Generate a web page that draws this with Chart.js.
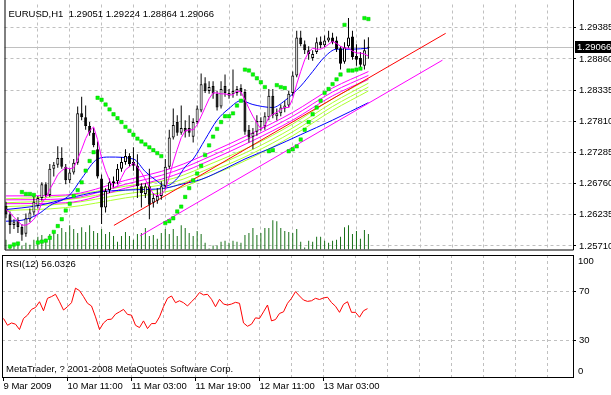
<!DOCTYPE html>
<html><head><meta charset="utf-8">
<script src="https://cdn.jsdelivr.net/npm/chart.js@4.4.1/dist/chart.umd.min.js"></script>
<style>
html,body{margin:0;padding:0;background:#fff;}
#wrap{position:relative;width:611px;height:395px;overflow:hidden;background:#fff;}
#main{position:absolute;left:0;top:0;}
#rsi{position:absolute;left:0;top:254px;}
</style></head><body>
<div id="wrap"><canvas id="main" width="611" height="254"></canvas><canvas id="rsi" width="611" height="141"></canvas></div>
<script>
// ---------- DATA ----------
const symbol = 'EURUSD,H1';
const copyright = 'MetaTrader, ? 2001-2008 MetaQuotes Software Corp.';
const rsiName = 'RSI(12)';

const opens = [1.26388,1.26241,1.26060,1.26126,1.26028,1.25913,1.26159,1.26273,1.26388,1.26519,
1.26748,1.26568,1.27010,1.27076,1.27191,1.27043,1.26814,1.26945,1.27109,1.27944,
1.27879,1.27731,1.27616,1.27338,1.26847,1.26355,1.26650,1.26765,1.26798,1.27010,
1.27125,1.27223,1.27125,1.27060,1.26716,1.26585,1.26716,1.26437,1.26470,1.26552,
1.26716,1.27043,1.27535,1.27797,1.27616,1.27698,1.27698,1.27551,1.27797,1.27993,
1.28452,1.28321,1.28403,1.28272,1.28059,1.28403,1.28239,1.28272,1.28288,1.28370,
1.28304,1.27666,1.27551,1.27633,1.27813,1.27731,1.27879,1.28239,1.27895,1.27944,
1.28026,1.28075,1.28288,1.28583,1.29222,1.29107,1.29009,1.28878,1.28976,1.29156,
1.29091,1.29173,1.29222,1.29173,1.29042,1.28812,1.29074,1.29238,1.28911,1.28878,
1.28747,1.29051];
const highs = [1.26454,1.26290,1.26159,1.26191,1.26077,1.26257,1.26339,1.26552,1.26552,1.26781,
1.26781,1.27092,1.27125,1.27387,1.27371,1.27092,1.27010,1.27174,1.28059,1.28223,
1.28075,1.27797,1.27698,1.27469,1.26912,1.26683,1.26847,1.26879,1.27092,1.27207,
1.27338,1.27273,1.27371,1.27256,1.26765,1.26765,1.27010,1.26601,1.26683,1.26798,
1.27174,1.27666,1.28026,1.27911,1.28075,1.27829,1.27911,1.27862,1.28075,1.28616,
1.28550,1.28485,1.28485,1.28321,1.28485,1.28599,1.28354,1.28681,1.28403,1.28436,
1.28354,1.27748,1.27698,1.27911,1.27879,1.27960,1.28354,1.28354,1.28026,1.28092,
1.28157,1.28321,1.28648,1.29336,1.29336,1.29173,1.29074,1.29009,1.29222,1.29238,
1.29255,1.29336,1.29304,1.29238,1.29074,1.29140,1.29549,1.29336,1.29107,1.28976,
1.29189,1.29224];
const lows = [1.26175,1.25913,1.25995,1.25929,1.25798,1.25864,1.26110,1.26224,1.26339,1.26470,
1.26535,1.26535,1.26879,1.27027,1.27010,1.26748,1.26765,1.26912,1.27076,1.27829,
1.27666,1.27567,1.27371,1.26847,1.26077,1.26273,1.26601,1.26683,1.26748,1.26961,
1.27076,1.27043,1.26978,1.26519,1.26355,1.26519,1.26159,1.26355,1.26421,1.26486,
1.26650,1.27010,1.27502,1.27567,1.27584,1.27535,1.27551,1.27453,1.27764,1.27960,
1.28288,1.28272,1.28190,1.27993,1.28026,1.28223,1.28190,1.28206,1.28239,1.28239,
1.27584,1.27453,1.27338,1.27567,1.27649,1.27666,1.27829,1.27862,1.27829,1.27895,
1.27960,1.28042,1.28239,1.28550,1.29074,1.28943,1.28845,1.28829,1.28943,1.29042,
1.29058,1.29140,1.29107,1.28976,1.28681,1.28779,1.29042,1.28845,1.28747,1.28714,
1.28681,1.28864];
const closes = [1.26241,1.26060,1.26110,1.26028,1.25897,1.26175,1.26273,1.26454,1.26519,1.26748,
1.26568,1.27010,1.27076,1.27191,1.27043,1.26814,1.26945,1.27109,1.27944,1.27879,
1.27731,1.27616,1.27404,1.26879,1.26355,1.26634,1.26781,1.26798,1.27010,1.27125,
1.27223,1.27092,1.27060,1.26716,1.26601,1.26716,1.26404,1.26519,1.26552,1.26716,
1.27043,1.27535,1.27748,1.27616,1.27698,1.27633,1.27616,1.27797,1.28026,1.28436,
1.28321,1.28386,1.28272,1.28042,1.28354,1.28288,1.28288,1.28321,1.28354,1.28304,
1.27633,1.27535,1.27616,1.27813,1.27797,1.27895,1.28239,1.27911,1.27944,1.28042,
1.28075,1.28272,1.28583,1.29222,1.29107,1.29009,1.28943,1.28943,1.29140,1.29091,
1.29173,1.29222,1.29140,1.29025,1.28779,1.29058,1.29222,1.28894,1.28845,1.28763,
1.29009,1.29066];
const volumes = [400,80,200,240,160,280,200,400,520,600,440,640,760,640,880,720,1000,840,680,920,
720,1000,760,680,840,640,720,560,320,560,720,560,400,640,680,880,560,600,440,680,
840,640,840,560,1000,880,680,560,760,640,280,40,160,160,320,360,280,360,320,280,
600,680,880,600,680,880,880,1200,1160,880,760,720,680,840,320,80,360,320,520,520,
360,280,360,400,520,920,1000,640,760,440,800,640];
const fastMA = [1.26322,1.26273,1.26191,1.26126,1.26060,1.26060,1.26093,1.26159,1.26257,1.26437,
1.26519,1.26666,1.26781,1.26912,1.26978,1.27027,1.27010,1.27027,1.27174,1.27338,
1.27518,1.27649,1.27715,1.27502,1.27191,1.26978,1.26814,1.26683,1.26716,1.26863,
1.26994,1.27043,1.27109,1.27043,1.26945,1.26830,1.26699,1.26585,1.26552,1.26585,
1.26650,1.26879,1.27125,1.27338,1.27535,1.27649,1.27666,1.27666,1.27748,1.27895,
1.28042,1.28190,1.28288,1.28288,1.28272,1.28272,1.28255,1.28255,1.28321,1.28304,
1.28173,1.28026,1.27895,1.27780,1.27682,1.27731,1.27879,1.27928,1.27960,1.28010,
1.28042,1.28042,1.28190,1.28436,1.28648,1.28845,1.28976,1.29042,1.29025,1.29025,
1.29058,1.29107,1.29156,1.29123,1.29074,1.29042,1.29042,1.28992,1.28960,1.28960,
1.28943,1.28911];
const sar = [null,1.25700,1.25733,1.25749,1.26617,1.26585,1.26585,1.26568,1.25766,1.25782,
1.25798,1.25847,1.25946,1.26044,1.26159,1.26306,1.26421,1.26552,1.26650,1.26781,
1.26978,1.27141,1.27289,1.28206,1.28173,1.28092,1.28010,1.27928,1.27862,1.27797,
1.27715,1.27649,1.27584,1.27518,1.27469,1.27420,1.27371,1.27322,1.27273,1.27223,
1.26093,1.26126,1.26175,1.26290,1.26372,1.26535,1.26683,1.26814,1.26929,1.27060,
1.27240,1.27404,1.27551,1.27682,1.27797,1.27895,1.27895,1.27944,1.28075,1.28157,
1.28681,1.28665,1.28599,1.28534,1.28468,1.28386,1.27305,1.27322,1.28419,1.28386,
1.28370,1.27305,1.27338,1.27387,1.27502,1.27666,1.27797,1.27928,1.28042,1.28157,
1.28288,1.28354,1.28436,1.28517,1.28599,1.29435,1.28665,1.28665,1.28681,1.28698,
1.29549,1.29533];
const rsi = [48,42.4,44.3,43.3,38.9,48,50.7,55.4,57,61.7,
54.3,64.5,65.9,67.8,61.7,54.9,57.6,60.9,72.8,70.8,
65.9,60.4,58.2,49.3,38.9,44.3,47.1,47.4,51.5,53.4,
55.4,51.3,50.7,42.4,40.5,46,39.7,43.8,43.8,49.3,
57.6,64.5,66.4,60.9,62.5,60.9,58.2,61.7,65,69.2,
67.3,67.8,63.7,57.6,63.7,59.8,59,59.8,61.2,60.4,
44.3,41.6,43.3,48.5,48,53.4,59,46,47.1,52.1,
53.4,60.4,64.5,70,66.4,63.1,62,62.5,64.5,63.5,
64.8,65.4,61,58,53,59.6,61.7,53,53,49,
54.3,56.0326];

// slower averages, read at selected bars
const mediumBars = [0,4,8,11,16,19,23,26,32,35,38,40,43,45,47,50,53,56,59,62,67,70,74,77,80,83,87,91];
const mediumVals = [1.26126,1.26142,1.26241,1.26388,1.26568,1.26847,1.27174,1.27207,1.27174,1.26961,1.26798,1.26716,1.26847,1.27043,1.27174,1.27502,1.27829,1.28026,1.28157,1.28092,1.28042,1.28157,1.28403,1.28648,1.28894,1.29025,1.29025,1.29042];
const slowBars = [0,8,16,23,30,40,44,49,55,60,67,74,82,91];
const slowVals = [1.26322,1.26388,1.26519,1.26617,1.26650,1.26683,1.26748,1.26830,1.27010,1.27174,1.27371,1.27584,1.27829,1.28124];
const ribbonBars = [0,15,30,42,52,62,72,82,91];
const ribbonMagenta1 = [1.26552,1.26568,1.26814,1.27027,1.27305,1.27616,1.27960,1.28370,1.28648];
const ribbonMagenta2 = [1.26486,1.26503,1.26748,1.26961,1.27240,1.27551,1.27895,1.28304,1.28583];
const ribbonMagenta3 = [1.26421,1.26437,1.26683,1.26896,1.27174,1.27485,1.27829,1.28239,1.28517];
const ribbonGreen1 = [1.26503,1.26552,1.26716,1.26847,1.27109,1.27404,1.27764,1.28190,1.28517];
const ribbonGreen2 = [1.26437,1.26486,1.26650,1.26781,1.27043,1.27338,1.27698,1.28124,1.28452];
const ribbonGreen3 = [1.26372,1.26421,1.26585,1.26716,1.26978,1.27273,1.27633,1.28059,1.28386];
const ribbonGreen4 = [1.26306,1.26355,1.26519,1.26650,1.26912,1.27207,1.27567,1.27993,1.28321];
// trend lines (bar position, price)
const redLineBars = [27.1, 110.4];
const redLineVals = [1.26055, 1.29292];
const magLineBars = [33.7, 109.6];
const magLineVals = [1.25880, 1.28840];

// axes
const priceTicks = [1.25710,1.26235,1.26760,1.27285,1.27810,1.28335,1.28860,1.29385];
const rsiTicks = [30,70];
const gridBars = [8,16,24,32,40,48,56,64,72,80,88,96,104,112,120,128,136];
const xLabelBars = [0,16,32,48,64,80];
const xLabelTexts = ['9 Mar 2009','10 Mar 11:00','11 Mar 03:00','11 Mar 19:00','12 Mar 11:00','13 Mar 03:00'];

// ---------- LAYOUT ----------
const X_MIN = -0.375, X_MAX = 142.375;
const Y_MIN = 1.25649, Y_MAX = 1.29778;
const VOL_MAX = 10080;
const FONT = '"Liberation Sans", Arial, sans-serif';
const FS = 9.5;
Chart.defaults.font.family = FONT;
Chart.defaults.font.size = FS;
Chart.defaults.color = '#000';
const last = closes.length - 1;
const GRID = '#c0c0c0';
const DASH = [3,3];

const pts = vals => vals.map((v,i)=>({x:i,y:v}));
const sparse = (bars, vals) => bars.map((b,k)=>({x:b,y:vals[k]}));
const lineDs = (label, data, color, order, smooth) => ({type:'line', label, data, borderColor:color, borderWidth:1,
  pointRadius:0, tension: smooth?0.4:0, cubicInterpolationMode: smooth?'monotone':'default', order, spanGaps:true});
const labelFor = v => { const k = xLabelBars.indexOf(v); return k>=0 ? xLabelTexts[k] : ''; };
const noPad = s => { s.paddingTop = 0; s.paddingBottom = 0; s.paddingLeft = 0; s.paddingRight = 0; };

const mainDeco = {
  id:'mainDeco',
  beforeDatasetsDraw(chart){
    const {ctx, chartArea:a, scales:{y}} = chart;
    const py = Math.round(y.getPixelForValue(closes[last])) + 0.5;
    ctx.save(); ctx.strokeStyle = GRID; ctx.lineWidth = 1;
    ctx.beginPath(); ctx.moveTo(a.left, py); ctx.lineTo(a.right, py); ctx.stroke(); ctx.restore();
  },
  afterDraw(chart){
    const {ctx, chartArea:a, scales:{y}} = chart;
    ctx.save();
    ctx.strokeStyle = '#000'; ctx.lineWidth = 1;
    ctx.beginPath();
    ctx.moveTo(a.left+0.5, 0); ctx.lineTo(a.left+0.5, a.bottom+0.5);
    ctx.lineTo(a.right+0.5, a.bottom+0.5); ctx.lineTo(a.right+0.5, 0);
    ctx.stroke();
    ctx.font = FS + 'px ' + FONT; ctx.textBaseline = 'middle'; ctx.textAlign = 'left'; ctx.fillStyle = '#000';
    const hdr = symbol + '  ' + [opens[last],highs[last],lows[last],closes[last]].map(v=>v.toFixed(5)).join(' ');
    ctx.fillText(hdr, a.left+4, a.top+9.5);
    const py = Math.round(y.getPixelForValue(closes[last]));
    ctx.fillStyle = '#000'; ctx.fillRect(a.right+2, py-6, 36, 12);
    ctx.fillStyle = '#fff'; ctx.fillText(closes[last].toFixed(5), a.right+4, py+0.5);
    ctx.restore();
  }
};
const rsiDeco = {
  id:'rsiDeco',
  afterDraw(chart){
    const {ctx, chartArea:a, scales:{y}} = chart;
    ctx.save();
    ctx.strokeStyle = '#000'; ctx.lineWidth = 1;
    ctx.strokeRect(a.left+0.5, a.top+0.5, a.right-a.left, a.bottom-a.top);
    ctx.font = FS + 'px ' + FONT; ctx.textBaseline = 'middle'; ctx.textAlign = 'left'; ctx.fillStyle = '#000';
    ctx.fillText(rsiName + ' ' + rsi[last].toFixed(4), a.left+4, a.top+9.5);
    ctx.fillText(copyright, a.left+4, a.bottom-7.5);
    ctx.fillText('100', a.right+5, y.getPixelForValue(100)+6.7);
    ctx.fillText('0', a.right+5, y.getPixelForValue(0)-6);
    ctx.restore();
  }
};

const common = {responsive:false, animation:false, events:[], plugins:{legend:{display:false}, tooltip:{enabled:false}}};

new Chart(document.getElementById('main'), {
  type:'line',
  data:{datasets:[
    {type:'bar', label:'Volume', yAxisID:'yVol', data:pts(volumes), backgroundColor:'#187018', barThickness:1, grouped:false, inflateAmount:0, order:30},
    lineDs('g1', sparse(ribbonBars, ribbonGreen1), '#adff2f', 25, true),
    lineDs('g2', sparse(ribbonBars, ribbonGreen2), '#adff2f', 25, true),
    lineDs('g3', sparse(ribbonBars, ribbonGreen3), '#adff2f', 25, true),
    lineDs('g4', sparse(ribbonBars, ribbonGreen4), '#adff2f', 25, true),
    lineDs('m1', sparse(ribbonBars, ribbonMagenta1), '#ff00ff', 24, true),
    lineDs('m2', sparse(ribbonBars, ribbonMagenta2), '#ff00ff', 24, true),
    lineDs('m3', sparse(ribbonBars, ribbonMagenta3), '#ff00ff', 24, true),
    lineDs('slow', sparse(slowBars, slowVals), '#0000ff', 23, true),
    lineDs('medium', sparse(mediumBars, mediumVals), '#0000ff', 22, true),
    lineDs('red trend', sparse(redLineBars, redLineVals), '#ff0000', 21, false),
    lineDs('magenta trend', sparse(magLineBars, magLineVals), '#ff00ff', 21, false),
    {type:'bar', label:'Wicks', data:highs.map((h,i)=>({x:i,y:[lows[i],h]})), backgroundColor:'#000', barThickness:1, grouped:false, inflateAmount:0, order:12},
    {type:'bar', label:'Bodies', data:opens.map((o,i)=>({x:i,y:[o,closes[i]]})),
      backgroundColor: c => closes[c.dataIndex] >= opens[c.dataIndex] ? '#ffffff' : '#000000',
      borderColor:'#000', borderWidth:1, borderSkipped:false, barThickness:3, grouped:false, inflateAmount:0, minBarLength:1, order:11},
    lineDs('fast', pts(fastMA), '#ff00ff', 5, false),
    {type:'line', label:'SAR', data:pts(sar), showLine:false, pointStyle:'rect', pointRadius:2.4,
      backgroundColor:'#00ff00', borderColor:'#00c000', borderWidth:0.5, order:1}
  ]},
  options:Object.assign({}, common, {
    layout:{padding:{left:2,right:0,top:1,bottom:1}},
    scales:{
      x:{type:'linear', min:X_MIN, max:X_MAX, offset:false, display:true,
        afterBuildTicks:s=>{ s.ticks = gridBars.map(v=>({value:v})); },
        afterFit:s=>{ s.height = 0; noPad(s); },
        ticks:{display:false}, grid:{color:GRID, drawTicks:false, offset:false, lineWidth:1},
        border:{display:false, dash:DASH}},
      y:{type:'linear', position:'right', min:Y_MIN, max:Y_MAX, beginAtZero:false,
        afterBuildTicks:s=>{ s.ticks = priceTicks.map(v=>({value:v})); },
        afterFit:s=>{ s.width = 38; noPad(s); },
        ticks:{callback:v=>Number(v).toFixed(5), padding:3, autoSkip:false, color:'#000', font:{size:FS}},
        grid:{color:GRID, tickLength:3, tickColor:'#000', lineWidth:1},
        border:{display:false, dash:DASH}},
      yVol:{type:'linear', display:false, min:0, max:VOL_MAX, afterFit:s=>{ noPad(s); }}
    }
  }),
  plugins:[mainDeco]
});

new Chart(document.getElementById('rsi'), {
  type:'line',
  data:{datasets:[
    {type:'line', label:'RSI', data:pts(rsi), borderColor:'#ff0000', borderWidth:1, pointRadius:0, tension:0}
  ]},
  options:Object.assign({}, common, {
    layout:{padding:{left:2,right:0,top:1,bottom:0}},
    scales:{
      x:{type:'linear', min:X_MIN, max:X_MAX, offset:false, position:'bottom',
        afterBuildTicks:s=>{ s.ticks = [0].concat(gridBars).map(v=>({value:v})); },
        afterFit:s=>{ s.height = 18; noPad(s); },
        ticks:{autoSkip:false, maxRotation:0, minRotation:0, align:'start', padding:0, callback:v=>labelFor(v), color:'#000', font:{size:FS}},
        grid:{offset:false, lineWidth:1, tickLength:4,
          color:c=> (c.tick && c.tick.value===0) ? 'rgba(0,0,0,0)' : GRID,
          tickColor:c=> (c.tick && labelFor(c.tick.value)) ? '#000' : 'rgba(0,0,0,0)'},
        border:{display:false, dash:DASH}},
      y:{type:'linear', position:'right', min:0, max:100,
        afterBuildTicks:s=>{ s.ticks = rsiTicks.map(v=>({value:v})); },
        afterFit:s=>{ s.width = 38; noPad(s); },
        ticks:{padding:3, autoSkip:false, color:'#000', font:{size:FS}},
        grid:{color:GRID, tickLength:3, tickColor:'#000', lineWidth:1},
        border:{display:false, dash:DASH}}
    }
  }),
  plugins:[rsiDeco]
});
</script>
</body></html>
